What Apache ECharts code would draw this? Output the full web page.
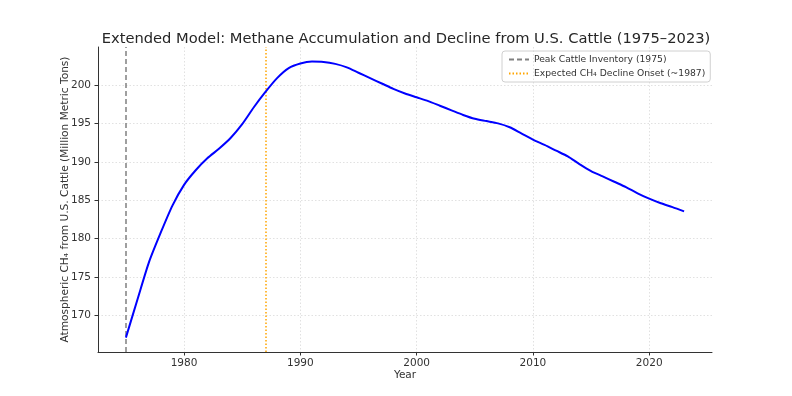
<!DOCTYPE html>
<html>
<head>
<meta charset="utf-8">
<script src="https://cdn.jsdelivr.net/npm/echarts@6/dist/echarts.min.js"></script>
<style>html,body{margin:0;padding:0;background:#fff}#c{width:792px;height:396px}</style>
</head>
<body>
<div id="c"></div>
<script>
const years = [1975,1976,1977,1978,1979,1980,1981,1982,1983,1984,1985,1986,1987,1988,1989,1990,1991,1992,1993,1994,1995,1996,1997,1998,1999,2000,2001,2002,2003,2004,2005,2006,2007,2008,2009,2010,2011,2012,2013,2014,2015,2016,2017,2018,2019,2020,2021,2022,2023];
const methane = [167.1,172.1,177.0,180.8,184.3,187.0,188.9,190.45,191.7,193.1,194.9,197.1,199.1,200.9,202.2,202.8,203.05,203.0,202.75,202.3,201.6,200.9,200.2,199.5,198.9,198.4,197.9,197.3,196.7,196.1,195.6,195.3,195.0,194.5,193.7,192.9,192.2,191.45,190.7,189.7,188.8,188.1,187.4,186.7,185.9,185.2,184.6,184.1,183.55];
const xTicks = [1980,1990,2000,2010,2020];
const yTicks = [170,175,180,185,190,195,200];
const peakYear = 1975;
const onsetYear = 1987;
const titleText = 'Extended Model: Methane Accumulation and Decline from U.S. Cattle (1975\u20132023)';
const yName = 'Atmospheric CH\u2084 from U.S. Cattle (Million Metric Tons)';
const xName = 'Year';
const peakLabel = 'Peak Cattle Inventory (1975)';
const onsetLabel = 'Expected CH\u2084 Decline Onset (~1987)';

const font = 'DejaVu Sans';
const chart = echarts.init(document.getElementById('c'), null, {renderer:'canvas'});
const gridLine = {show:true, lineStyle:{color:'#d9d9d9', type:[1.5,2], width:0.8}};
chart.setOption({
  animation:false,
  backgroundColor:'#fff',
  title:{text:titleText, left:401, top:27, textAlign:'center',
    textStyle:{fontFamily:font, fontSize:14.7, fontWeight:'normal', color:'#262626'}},
  legend:{
    data:[peakLabel, onsetLabel],
    left:502, top:51, orient:'vertical', itemGap:5, itemWidth:20, itemHeight:10,
    padding:[4,5,4,6], borderColor:'#d0d0d0', borderWidth:1, borderRadius:3,
    itemStyle:{opacity:0},
    textStyle:{fontFamily:font, fontSize:9.2, color:'#333'}
  },
  grid:{left:98, right:80, top:47, bottom:44},
  xAxis:{type:'value', min:1972.6, max:2025.4,
    name:xName, nameLocation:'middle', nameGap:18, nameMoveOverlap:false,
    nameTextStyle:{fontFamily:font, fontSize:10.5, color:'#333'},
    axisLine:{lineStyle:{color:'#333', width:1}},
    axisTick:{show:true, customValues:xTicks, length:3.5, lineStyle:{color:'#333'}},
    axisLabel:{customValues:xTicks, formatter:v=>String(v), fontFamily:font, fontSize:10.5, color:'#333', margin:6},
    splitLine:gridLine},
  yAxis:{type:'value', min:165.23, max:204.95,
    name:yName, nameLocation:'middle', nameGap:27, nameMoveOverlap:false,
    nameTextStyle:{fontFamily:font, fontSize:10.6, color:'#333'},
    axisLine:{show:true, lineStyle:{color:'#333', width:1}},
    axisTick:{show:true, customValues:yTicks, length:3.5, lineStyle:{color:'#333'}},
    axisLabel:{customValues:yTicks, fontFamily:font, fontSize:10.5, color:'#333', margin:7},
    splitLine:gridLine},
  series:[
    {type:'line', name:'CH4', data:years.map((y,i)=>[y, methane[i]]), symbol:'none', smooth:0.25,
      lineStyle:{color:'#0000ff', width:2}, z:5},
    {type:'line', name:peakLabel, data:[], symbol:'none', color:'#808080',
      lineStyle:{color:'#808080', width:1.5, type:[5,3]},
      markLine:{symbol:'none', silent:true, label:{show:false},
        lineStyle:{color:'#808080', width:1.5, type:[5,3]}, data:[{xAxis:peakYear}]}},
    {type:'line', name:onsetLabel, data:[], symbol:'none', color:'#ffa500',
      lineStyle:{color:'#ffa500', width:1.5, type:[1.5,2]},
      markLine:{symbol:'none', silent:true, label:{show:false},
        lineStyle:{color:'#ffa500', width:1.5, type:[1.5,2]}, data:[{xAxis:onsetYear}]}}
  ]
});
</script>
</body>
</html>
